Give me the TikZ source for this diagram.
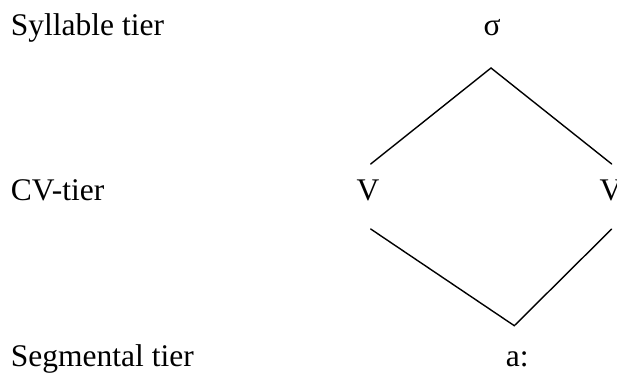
\documentclass[tikz,border=0pt]{standalone}
\usepackage{fontspec}
\setmainfont{Liberation Serif}
\begin{document}
\begin{tikzpicture}[x=0.5pt,y=-0.5pt,
  tierlabel/.style={anchor=base west, inner sep=0pt, font=\fontsize{15.75}{18}\selectfont},
  sym/.style={anchor=base, inner sep=0pt, font=\fontsize{15.75}{18}\selectfont},
  conn/.style={line width=0.7pt, line cap=round}]
\useasboundingbox (0,0) rectangle (617,374);
% tier labels
\node[tierlabel] (syl) at (10.5,36) {Syllable tier};
\node[tierlabel] (cv) at (10.5,201) {CV-tier};
\node[tierlabel] (seg) at (10.5,366) {Segmental tier};
% symbols
\node[sym] (sigma) at (492,36) {σ};
\node[sym] (v1) at (368,201) {V};
\node[sym] (v2) at (611,201) {V};
\node[sym, anchor=base west] (a) at (505.5,366) {a:};
% connector end points
\coordinate (top) at (491,68);
\coordinate (v1u) at (370.7,164);
\coordinate (v2u) at (611.7,164);
\coordinate (v1d) at (370.7,229);
\coordinate (v2d) at (611.7,229);
\coordinate (bot) at (514.3,325.7);
\draw[conn] (v1u) -- (top) -- (v2u);
\draw[conn] (v1d) -- (bot) -- (v2d);
\end{tikzpicture}
\end{document}
